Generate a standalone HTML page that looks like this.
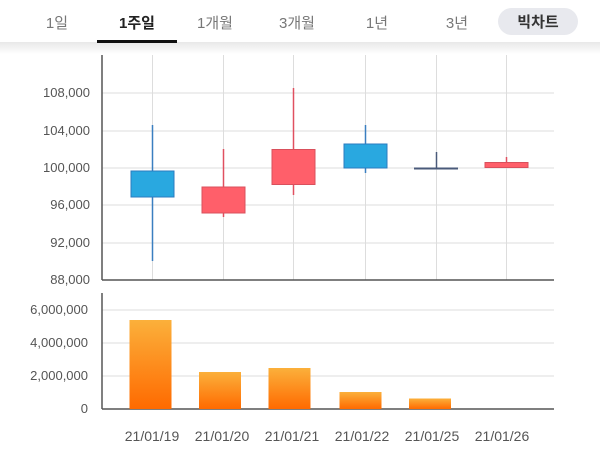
<!DOCTYPE html>
<html><head><meta charset="utf-8"><style>
body{margin:0;width:600px;height:475px;background:#fff;overflow:hidden;font-family:"Liberation Sans","Noto Sans CJK KR",sans-serif;}
.hdr{position:absolute;left:0;top:0;width:600px;height:42px;}
.t{position:absolute;top:12px;font-size:15px;color:#777;transform:translateX(-50%);white-space:nowrap;}
.shadow{position:absolute;left:0;top:42px;width:600px;height:12px;background:linear-gradient(#e8e8e8,#fff);}
</style></head><body>
<div class="hdr">
<div class="t" style="left:57px">1일</div>
<div class="t" style="left:137px;color:#222;font-weight:bold">1주일</div>
<div class="t" style="left:215px">1개월</div>
<div class="t" style="left:297px">3개월</div>
<div class="t" style="left:377px">1년</div>
<div class="t" style="left:457px">3년</div>
<div style="position:absolute;left:498px;top:8px;width:80px;height:27px;border-radius:14px;background:#e8e9ee"></div>
<div class="t" style="left:538px;top:11px;color:#333;font-weight:bold">빅차트</div>
</div>
<div class="shadow"></div>
<div style="position:absolute;left:97px;top:40px;width:80px;height:3px;background:#111"></div>
<svg width="600" height="475" style="position:absolute;left:0;top:0" font-family="Liberation Sans, sans-serif" font-size="13" fill="#555">
<defs><linearGradient id="g" x1="0" y1="0" x2="0" y2="1"><stop offset="0" stop-color="#fbb03b"/><stop offset="1" stop-color="#ff6a00"/></linearGradient></defs>
<g stroke="#ddd" stroke-width="1">
<line x1="152.5" y1="55" x2="152.5" y2="280"/><line x1="223.5" y1="55" x2="223.5" y2="280"/><line x1="293.5" y1="55" x2="293.5" y2="280"/><line x1="365.5" y1="55" x2="365.5" y2="280"/><line x1="436.5" y1="55" x2="436.5" y2="280"/><line x1="506.5" y1="55" x2="506.5" y2="280"/>
<line x1="102" y1="93" x2="554" y2="93"/><line x1="102" y1="131" x2="554" y2="131"/><line x1="102" y1="168" x2="554" y2="168"/><line x1="102" y1="205" x2="554" y2="205"/><line x1="102" y1="243" x2="554" y2="243"/>
<line x1="102" y1="310" x2="554" y2="310"/><line x1="102" y1="343" x2="554" y2="343"/><line x1="102" y1="376" x2="554" y2="376"/>
</g>
<g stroke="#555" stroke-width="1.5">
<line x1="102" y1="55" x2="102" y2="280"/><line x1="102" y1="280" x2="554" y2="280"/>
<line x1="102" y1="293" x2="102" y2="409"/><line x1="102" y1="409" x2="554" y2="409"/>
</g>
<g text-anchor="end">
<text x="90" y="97">108,000</text><text x="90" y="135">104,000</text><text x="90" y="172">100,000</text><text x="90" y="209">96,000</text><text x="90" y="247">92,000</text><text x="90" y="284">88,000</text>
<text x="88" y="314">6,000,000</text><text x="88" y="347">4,000,000</text><text x="88" y="380">2,000,000</text><text x="88" y="413">0</text>
</g>
<!-- candles -->
<line x1="152.5" y1="125" x2="152.5" y2="261" stroke="#3a7fc0" stroke-width="1.5"/>
<rect x="131" y="171" width="43" height="26" fill="#29a8e0" stroke="#2b7bbf"/>
<line x1="223.5" y1="149" x2="223.5" y2="217" stroke="#e05060" stroke-width="1.5"/>
<rect x="202" y="187" width="43" height="26" fill="#ff5f6a" stroke="#d9505c"/>
<line x1="293.5" y1="88" x2="293.5" y2="195" stroke="#e05060" stroke-width="1.5"/>
<rect x="272" y="149.5" width="43" height="35" fill="#ff5f6a" stroke="#d9505c"/>
<line x1="365.5" y1="125" x2="365.5" y2="173" stroke="#3a7fc0" stroke-width="1.5"/>
<rect x="344" y="144" width="43" height="24" fill="#29a8e0" stroke="#2b7bbf"/>
<line x1="436.5" y1="152" x2="436.5" y2="169" stroke="#4a5a7a" stroke-width="1.5"/>
<rect x="414" y="167.5" width="44" height="2" fill="#4a5a7a"/>
<line x1="506.5" y1="157" x2="506.5" y2="163" stroke="#e05060" stroke-width="1.5"/>
<rect x="485" y="162.5" width="43" height="5" fill="#ff5f6a" stroke="#d9505c"/>
<!-- volume -->
<rect x="129.5" y="320" width="42" height="89" fill="url(#g)"/>
<rect x="199" y="372" width="42" height="37" fill="url(#g)"/>
<rect x="268.5" y="368" width="42" height="41" fill="url(#g)"/>
<rect x="339.5" y="392" width="42" height="17" fill="url(#g)"/>
<rect x="409" y="398.5" width="42" height="10.5" fill="url(#g)"/>
<g text-anchor="middle" font-size="14">
<text x="152" y="441">21/01/19</text><text x="222" y="441">21/01/20</text><text x="292" y="441">21/01/21</text><text x="362" y="441">21/01/22</text><text x="432" y="441">21/01/25</text><text x="502" y="441">21/01/26</text>
</g>
</svg>
</body></html>
